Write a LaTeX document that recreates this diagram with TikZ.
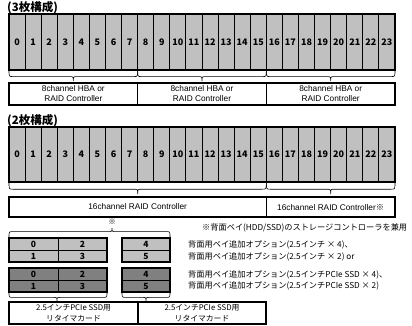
\documentclass[tikz,border=0pt]{standalone}
\usepackage{fontspec}
\setmainfont{Liberation Sans}
\newfontfamily\jp{Noto Sans CJK JP}
\definecolor{baygray}{HTML}{C0C0C0}
\definecolor{darkbay}{HTML}{808080}
\newcommand{\bracedn}[5]{\draw[brc] ({#1},{#4}) .. controls ({#1},{#4+0.6*(#5)}) .. ({#1+4},{#4+0.6*(#5)}) -- ({#3-4},{#4+0.6*(#5)}) .. controls ({#3},{#4+0.6*(#5)}) .. ({#3},{#4+(#5)}) .. controls ({#3},{#4+0.6*(#5)}) .. ({#3+4},{#4+0.6*(#5)}) -- ({#2-4},{#4+0.6*(#5)}) .. controls ({#2},{#4+0.6*(#5)}) .. ({#2},{#4});}
\begin{document}
\begin{tikzpicture}[x=1pt,y=-1pt,
  bay/.style={draw, fill=baygray, line width=0.9pt, inner sep=0pt, outer sep=0pt,
    minimum width=16.083pt, minimum height=56pt, font=\jp\bfseries\fontsize{9}{9}\selectfont},
  outerbox/.style={draw, line width=1.6pt},
  ctrl/.style={draw, line width=1.6pt, fill=white, inner sep=0pt, outer sep=0pt, align=center,
    font=\fontsize{8.3}{10}\selectfont},
  brc/.style={line width=0.6pt},
  row/.style={draw, line width=0.8pt, inner sep=0pt, outer sep=0pt, minimum height=12pt,
    font=\jp\bfseries\fontsize{8.5}{8}\selectfont},
  title/.style={anchor=west, inner sep=0pt, font=\jp\bfseries\fontsize{11.5}{12}\selectfont},
  note/.style={anchor=west, inner sep=0pt, font=\jp\fontsize{8.2}{9}\selectfont},
  card/.style={ctrl, minimum height=22pt, font=\jp\fontsize{7.8}{10.5}\selectfont},
]
\useasboundingbox (0,0) rectangle (412,325);
\fill[white] (0,0) rectangle (412,325);

% ===== 3-card configuration =====
\node[title] (t1) at (7,8) {(3枚構成)};
\foreach \i in {0,...,23}{
  \node[bay] (a\i) at ({9+(\i+0.5)*16.083},42) {\i};
}
\draw[outerbox] (a0.north west) rectangle (a23.south east);
\bracedn{9}{137.67}{73.33}{70}{11}
\bracedn{137.67}{266.33}{202}{70}{11}
\bracedn{266.33}{395}{330.67}{70}{11}
\node[ctrl, minimum width=128.67pt, minimum height=22pt] (c1) at (73.33,94) {8channel HBA or\\RAID Controller};
\node[ctrl, minimum width=128.67pt, minimum height=22pt] (c2) at (202,94) {8channel HBA or\\RAID Controller};
\node[ctrl, minimum width=128.67pt, minimum height=22pt] (c3) at (330.67,94) {8channel HBA or\\RAID Controller};

% ===== 2-card configuration =====
\node[title] (t2) at (7,121) {(2枚構成)};
\foreach \i in {0,...,23}{
  \node[bay, minimum height=55pt] (b\i) at ({9+(\i+0.5)*16.083},154.5) {\i};
}
\draw[outerbox] (b0.north west) rectangle (b23.south east);
\bracedn{9}{266.33}{137.67}{182}{12}
\bracedn{266.33}{395}{330.67}{182}{12}
\node[ctrl, minimum width=257.33pt, minimum height=20pt] (d1) at (137.67,207) {16channel RAID Controller};
\node[ctrl, minimum width=128.67pt, minimum height=20pt] (d2) at (330.67,207) {16channel RAID Controller{\jp ※}};

\node[inner sep=0pt, font=\jp\fontsize{7.5}{8}\selectfont] (m) at (112,221.5) {※};
\node[note] (n0) at (202,228) {※背面ベイ(HDD/SSD)のストレージコントローラを兼用};

% ===== rear bays =====
\bracedn{9}{170}{112}{237}{-9}
% light rows
\node[row, fill=baygray, minimum width=49pt] (l0) at (33.5,244) {0};
\node[row, fill=baygray, minimum width=49pt] (l2) at (82.5,244) {2};
\node[row, fill=baygray, minimum width=49pt] (l1) at (33.5,256) {1};
\node[row, fill=baygray, minimum width=49pt] (l3) at (82.5,256) {3};
\draw[outerbox] (l0.north west) rectangle (l3.south east);
\node[row, fill=baygray, minimum width=48pt] (l4) at (146,244) {4};
\node[row, fill=baygray, minimum width=48pt] (l5) at (146,256) {5};
\draw[outerbox] (l4.north west) rectangle (l5.south east);
% dark rows
\node[row, fill=darkbay, minimum width=49pt] (k0) at (33.5,274) {0};
\node[row, fill=darkbay, minimum width=49pt] (k2) at (82.5,274) {2};
\node[row, fill=darkbay, minimum width=49pt] (k1) at (33.5,286) {1};
\node[row, fill=darkbay, minimum width=49pt] (k3) at (82.5,286) {3};
\draw[outerbox] (k0.north west) rectangle (k3.south east);
\node[row, fill=darkbay, minimum width=48pt] (k4) at (146,274) {4};
\node[row, fill=darkbay, minimum width=48pt] (k5) at (146,286) {5};
\draw[outerbox] (k4.north west) rectangle (k5.south east);

\node[note] (n1) at (188,245) {背面用ベイ追加オプション(2.5インチ × 4)、};
\node[note] (n2) at (188,256.5) {背面用ベイ追加オプション(2.5インチ × 2) or};
\node[note] (n3) at (188,275) {背面用ベイ追加オプション(2.5インチPCIe SSD × 4)、};
\node[note] (n4) at (188,286) {背面用ベイ追加オプション(2.5インチPCIe SSD × 2)};

\bracedn{9}{107}{57}{292}{9}
\bracedn{122}{170}{146}{292}{9}
\node[card, minimum width=129pt] (r1) at (73.5,313) {2.5インチPCIe SSD用\\リタイマカード};
\node[card, minimum width=128pt] (r2) at (202,313) {2.5インチPCIe SSD用\\リタイマカード};
\end{tikzpicture}
\end{document}
